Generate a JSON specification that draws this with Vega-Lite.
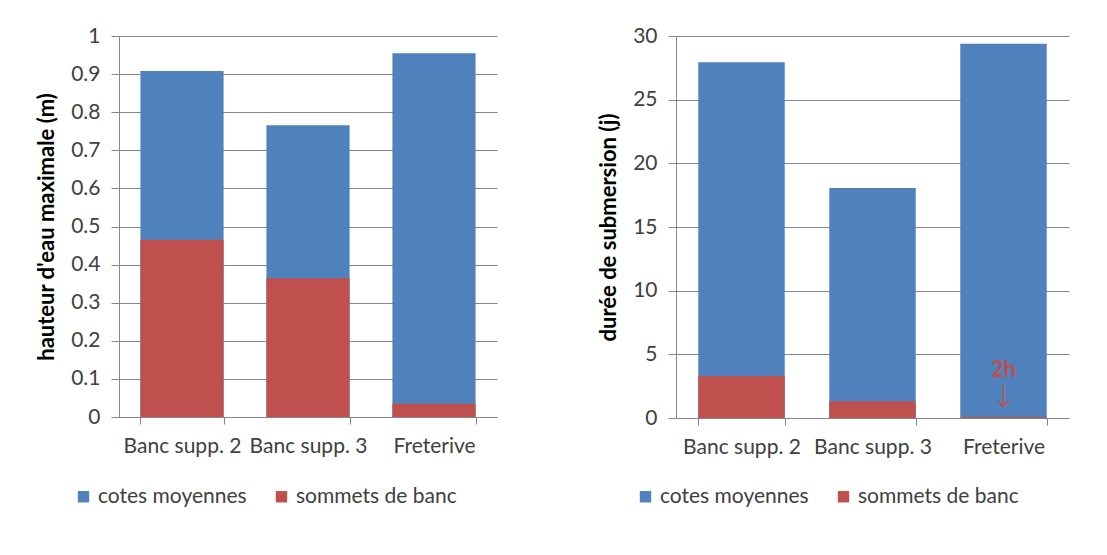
{
  "$schema": "https://vega.github.io/schema/vega-lite/v6.json",
  "background": "white",
  "padding": {"left": 35, "top": 25, "right": 10, "bottom": 0},
  "datasets": {
    "hauteur": [
      {"site": "Banc supp. 2", "serie": "cotes moyennes", "valeur": 0.908},
      {"site": "Banc supp. 3", "serie": "cotes moyennes", "valeur": 0.766},
      {"site": "Freterive", "serie": "cotes moyennes", "valeur": 0.955},
      {"site": "Banc supp. 2", "serie": "sommets de banc", "valeur": 0.465},
      {"site": "Banc supp. 3", "serie": "sommets de banc", "valeur": 0.364},
      {"site": "Freterive", "serie": "sommets de banc", "valeur": 0.035}
    ],
    "duree": [
      {"site": "Banc supp. 2", "serie": "cotes moyennes", "valeur": 27.93},
      {"site": "Banc supp. 3", "serie": "cotes moyennes", "valeur": 18.06},
      {"site": "Freterive", "serie": "cotes moyennes", "valeur": 29.4},
      {"site": "Banc supp. 2", "serie": "sommets de banc", "valeur": 3.3},
      {"site": "Banc supp. 3", "serie": "sommets de banc", "valeur": 1.31},
      {"site": "Freterive", "serie": "sommets de banc", "valeur": 0.083}
    ],
    "annot": [
      {"site": "Freterive", "valeur": 3.8, "txt": "2h", "kind": "label"},
      {"site": "Freterive", "valeur": 1.55, "txt": "↓", "kind": "arrow"}
    ]
  },
  "config": {
    "font": "Lato",
    "view": {"stroke": null},
    "axis": {
      "labelFont": "Lato",
      "labelFontSize": 21,
      "labelColor": "#404040",
      "titleFont": "Lato",
      "titleFontSize": 22,
      "titleFontWeight": "bold",
      "titleColor": "#000000",
      "domainColor": "#868686",
      "tickColor": "#868686",
      "gridColor": "#868686",
      "gridWidth": 1,
      "domainWidth": 1,
      "tickWidth": 1
    },
    "legend": {
      "labelFont": "Lato",
      "labelFontSize": 21,
      "labelColor": "#404040",
      "labelLimit": 400,
      "symbolType": "square",
      "symbolSize": 130,
      "symbolStrokeWidth": 0,
      "columnPadding": 24,
      "orient": "none",
      "direction": "horizontal",
      "title": null
    }
  },
  "hconcat": [
    {
      "width": 378,
      "height": 381,
      "data": {"name": "hauteur"},
      "mark": {"type": "bar", "stroke": null},
      "encoding": {
        "x": {
          "field": "site", "type": "nominal", "title": null,
          "scale": {"paddingInner": 0.34, "paddingOuter": 0.17},
          "axis": {"labelAngle": 0, "tickBand": "extent", "tickSize": 7, "labelPadding": 11, "grid": false}
        },
        "y": {
          "field": "valeur", "type": "quantitative", "stack": null,
          "title": "hauteur d'eau maximale (m)",
          "scale": {"domain": [0, 1], "nice": false},
          "axis": {"values": [0, 0.1, 0.2, 0.3, 0.4, 0.5, 0.6, 0.7, 0.8, 0.9, 1], "format": "~g", "tickSize": 8, "labelPadding": 11, "titlePadding": 12, "grid": true}
        },
        "color": {
          "field": "serie", "type": "nominal",
          "scale": {"domain": ["cotes moyennes", "sommets de banc"], "range": ["#4F81BD", "#C0504D"]},
          "legend": {"orient": "none", "legendX": -46, "legendY": 450}
        }
      }
    },
    {
      "width": 393,
      "height": 382,
      "layer": [
        {
          "data": {"name": "duree"},
          "mark": {"type": "bar", "stroke": null},
          "encoding": {
            "x": {
              "field": "site", "type": "nominal", "title": null,
              "scale": {"paddingInner": 0.34, "paddingOuter": 0.17},
              "axis": {"labelAngle": 0, "tickBand": "extent", "tickSize": 7, "labelPadding": 11, "grid": false}
            },
            "y": {
              "field": "valeur", "type": "quantitative", "stack": null,
              "title": "durée de submersion (j)",
              "scale": {"domain": [0, 30], "nice": false},
              "axis": {"values": [0, 5, 10, 15, 20, 25, 30], "tickSize": 8, "labelPadding": 11, "titlePadding": 12, "grid": true}
            },
            "color": {
              "field": "serie", "type": "nominal",
              "scale": {"domain": ["cotes moyennes", "sommets de banc"], "range": ["#4F81BD", "#C0504D"]},
              "legend": {"orient": "none", "legendX": -41, "legendY": 450}
            }
          }
        },
        {
          "data": {"name": "annot"},
          "transform": [{"filter": "datum.kind == 'label'"}],
          "mark": {"type": "text", "color": "#C0504D", "fontSize": 22, "fontWeight": "bold", "font": "Lato", "baseline": "middle"},
          "encoding": {
            "x": {"field": "site", "type": "nominal"},
            "y": {"field": "valeur", "type": "quantitative"},
            "text": {"field": "txt"}
          }
        },
        {
          "data": {"name": "annot"},
          "transform": [{"filter": "datum.kind == 'arrow'"}],
          "mark": {"type": "text", "color": "#C0504D", "fontSize": 30, "font": "DejaVu Sans", "fontWeight": "lighter", "baseline": "middle"},
          "encoding": {
            "x": {"field": "site", "type": "nominal"},
            "y": {"field": "valeur", "type": "quantitative"},
            "text": {"field": "txt"}
          }
        }
      ]
    }
  ],
  "spacing": 100,
  "resolve": {"legend": {"color": "independent"}, "scale": {"y": "independent"}}
}
